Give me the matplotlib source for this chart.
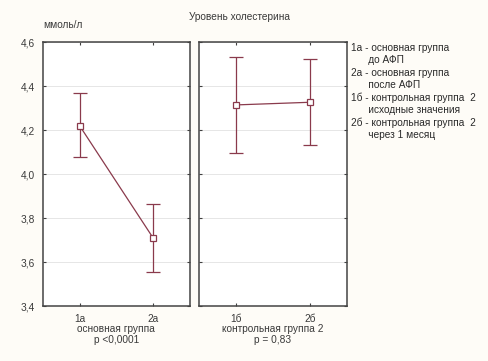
import matplotlib
matplotlib.use('Agg')
import matplotlib.pyplot as plt
from matplotlib.ticker import FuncFormatter

plt.rcParams['font.family'] = ['Liberation Sans', 'DejaVu Sans']

# data
groups1 = ['1а', '2а']
mean1 = [4.22, 3.71]
low1 = [4.08, 3.555]
high1 = [4.37, 3.865]

groups2 = ['1б', '2б']
mean2 = [4.315, 4.327]
low2 = [4.095, 4.132]
high2 = [4.532, 4.523]

yticks = [3.4, 3.6, 3.8, 4.0, 4.2, 4.4, 4.6]
xlab1 = 'основная группа\np <0,0001'
xlab2 = 'контрольная группа 2\np = 0,83'
legend_lines = ['1а - основная группа', '      до АФП',
                '2а - основная группа', '      после АФП',
                '1б - контрольная группа  2', '      исходные значения',
                '2б - контрольная группа  2', '      через 1 месяц']

col = '#8a3a4c'
fs = 7.3

fig = plt.figure(figsize=(4.88, 3.61), dpi=100, facecolor='#fefcf7')
ax1 = fig.add_axes([0.088, 0.152, 0.301, 0.731])
ax2 = fig.add_axes([0.408, 0.152, 0.303, 0.731])


def panel(ax, names, m, lo, hi, lab, show_y):
    x = list(range(len(names)))
    err = [[a - b for a, b in zip(m, lo)], [b - a for a, b in zip(m, hi)]]
    ax.errorbar(x, m, yerr=err, color=col, lw=0.9, capsize=5, capthick=0.9,
                marker='s', ms=4, mfc='white', mec=col, mew=0.9)
    ax.set_xlim(-0.5, 1.5)
    ax.set_ylim(3.4, 4.6)
    ax.set_yticks(yticks)
    ax.yaxis.set_major_formatter(FuncFormatter(lambda v, p: ('%.1f' % v).replace('.', ',')))
    ax.set_xticks(x)
    ax.set_xticklabels(names)
    ax.grid(axis='y', color='#e6e6e6', lw=0.7)
    ax.set_axisbelow(True)
    ax.tick_params(direction='in', length=2.5, width=0.8, top=True, right=True,
                   labelsize=fs, colors='#404040', labelcolor='#3a3a3a', pad=6)
    if not show_y:
        ax.tick_params(labelleft=False)
    for s in ax.spines.values():
        s.set_color('#444444')
        s.set_linewidth(1.1)
    ax.set_xlabel(lab, fontsize=fs, color='#3a3a3a', labelpad=0, linespacing=1.05)


panel(ax1, groups1, mean1, low1, high1, xlab1, True)
panel(ax2, groups2, mean2, low2, high2, xlab2, False)

fig.text(0.088, 0.93, 'ммоль/л', fontsize=fs, color='#3a3a3a', ha='left', va='center')
fig.text(0.49, 0.953, 'Уровень холестерина', fontsize=fs, color='#3a3a3a', ha='center', va='center')

y0 = 0.868
for i, t in enumerate(legend_lines):
    fig.text(0.72, y0 - i * 0.0345, t, fontsize=fs, color='#2a2a2a', ha='left', va='center')

fig.savefig('out.png', dpi=100, facecolor=fig.get_facecolor())
